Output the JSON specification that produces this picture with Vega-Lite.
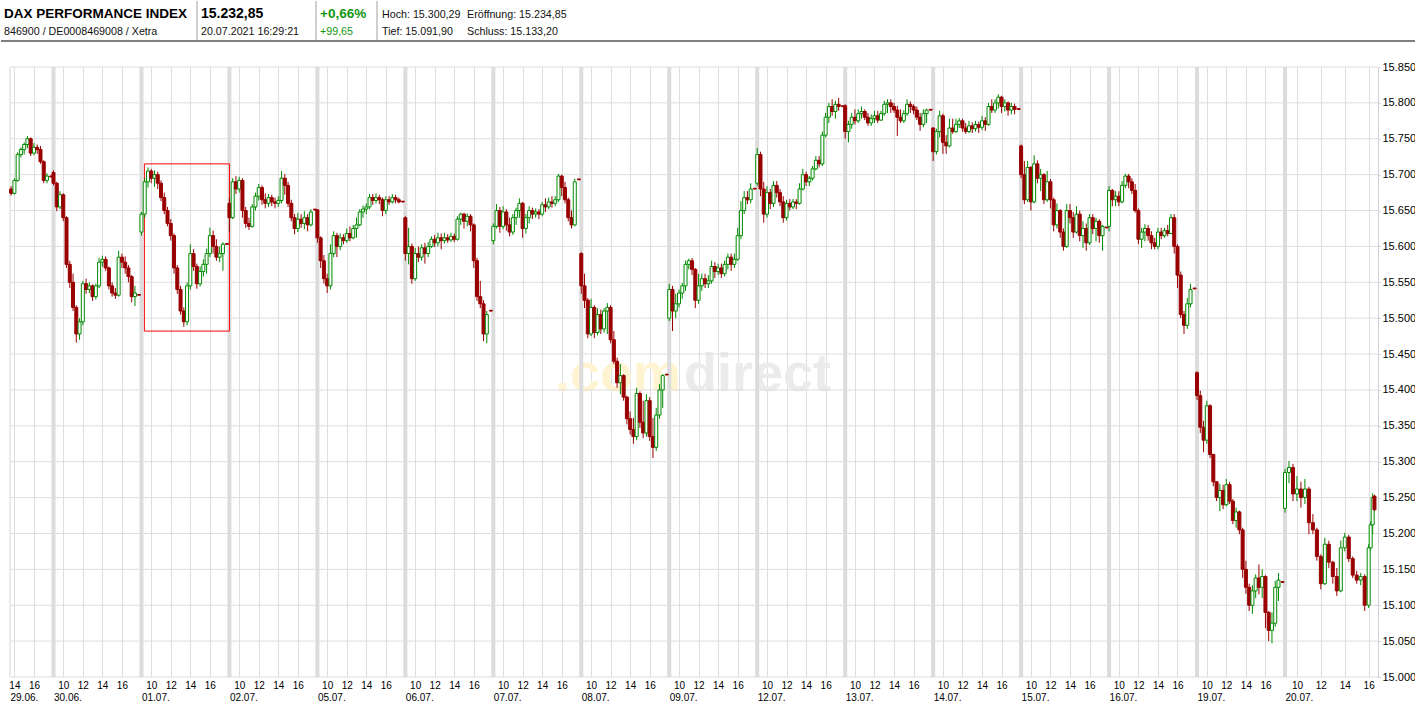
{
"$schema":"https://vega.github.io/schema/vega-lite/v6.json",
"padding":0,
"background":"white",
"config":{"view":{"stroke":null},"scale":{"continuousPadding":0}},
"spacing":19,
"datasets":{
"days":[{"d":1},{"d":2},{"d":3},{"d":4},{"d":5},{"d":6},{"d":7},{"d":8},{"d":9},{"d":10},{"d":11},{"d":12},{"d":13},{"d":14},{"d":15}],
"levels":[{"p":15000},{"p":15050},{"p":15100},{"p":15150},{"p":15200},{"p":15250},{"p":15300},{"p":15350},{"p":15400},{"p":15450},{"p":15500},{"p":15550},{"p":15600},{"p":15650},{"p":15700},{"p":15750},{"p":15800},{"p":15850}],
"box":[{"d":2,"from":"09:18","to":"18:00","lo":15482,"hi":15715}],
"candles":[
{"d":0,"tm":"13:40","o":15680,"c":15674,"hi":15684,"lo":15671},
{"d":0,"tm":"14:00","o":15674,"c":15692,"hi":15695,"lo":15672},
{"d":0,"tm":"14:20","o":15692,"c":15728,"hi":15731,"lo":15690},
{"d":0,"tm":"14:40","o":15728,"c":15735,"hi":15738,"lo":15724},
{"d":0,"tm":"15:00","o":15735,"c":15742,"hi":15745,"lo":15728},
{"d":0,"tm":"15:20","o":15742,"c":15750,"hi":15754,"lo":15737},
{"d":0,"tm":"15:40","o":15750,"c":15730,"hi":15752,"lo":15726},
{"d":0,"tm":"16:00","o":15730,"c":15738,"hi":15744,"lo":15727},
{"d":0,"tm":"16:20","o":15738,"c":15735,"hi":15742,"lo":15729},
{"d":0,"tm":"16:40","o":15735,"c":15718,"hi":15740,"lo":15715},
{"d":0,"tm":"17:00","o":15718,"c":15692,"hi":15720,"lo":15688},
{"d":0,"tm":"17:20","o":15692,"c":15698,"hi":15702,"lo":15688},
{"d":0,"tm":"17:45","o":15698,"c":15697,"hi":15699,"lo":15696},
{"d":1,"tm":"09:00","o":15703,"c":15688,"hi":15706,"lo":15685},
{"d":1,"tm":"09:20","o":15688,"c":15655,"hi":15690,"lo":15649},
{"d":1,"tm":"09:40","o":15655,"c":15672,"hi":15677,"lo":15652},
{"d":1,"tm":"10:00","o":15672,"c":15640,"hi":15674,"lo":15635},
{"d":1,"tm":"10:20","o":15640,"c":15575,"hi":15642,"lo":15570},
{"d":1,"tm":"10:40","o":15575,"c":15550,"hi":15580,"lo":15542},
{"d":1,"tm":"11:00","o":15550,"c":15515,"hi":15562,"lo":15510},
{"d":1,"tm":"11:20","o":15515,"c":15478,"hi":15518,"lo":15466},
{"d":1,"tm":"11:40","o":15478,"c":15495,"hi":15500,"lo":15470},
{"d":1,"tm":"12:00","o":15495,"c":15548,"hi":15552,"lo":15490},
{"d":1,"tm":"12:20","o":15548,"c":15540,"hi":15555,"lo":15534},
{"d":1,"tm":"12:40","o":15540,"c":15545,"hi":15550,"lo":15535},
{"d":1,"tm":"13:00","o":15545,"c":15530,"hi":15547,"lo":15524},
{"d":1,"tm":"13:20","o":15530,"c":15545,"hi":15548,"lo":15526},
{"d":1,"tm":"13:40","o":15545,"c":15578,"hi":15584,"lo":15542},
{"d":1,"tm":"14:00","o":15578,"c":15582,"hi":15587,"lo":15572},
{"d":1,"tm":"14:20","o":15582,"c":15570,"hi":15586,"lo":15566},
{"d":1,"tm":"14:40","o":15570,"c":15545,"hi":15572,"lo":15540},
{"d":1,"tm":"15:00","o":15545,"c":15535,"hi":15550,"lo":15530},
{"d":1,"tm":"15:20","o":15535,"c":15532,"hi":15542,"lo":15527},
{"d":1,"tm":"15:40","o":15532,"c":15585,"hi":15594,"lo":15530},
{"d":1,"tm":"16:00","o":15585,"c":15578,"hi":15590,"lo":15570},
{"d":1,"tm":"16:20","o":15578,"c":15570,"hi":15586,"lo":15562},
{"d":1,"tm":"16:40","o":15570,"c":15558,"hi":15574,"lo":15550},
{"d":1,"tm":"17:00","o":15558,"c":15530,"hi":15560,"lo":15522},
{"d":1,"tm":"17:20","o":15530,"c":15535,"hi":15545,"lo":15517},
{"d":1,"tm":"17:45","o":15533,"c":15532,"hi":15533,"lo":15531},
{"d":2,"tm":"09:00","o":15620,"c":15645,"hi":15648,"lo":15615},
{"d":2,"tm":"09:20","o":15645,"c":15690,"hi":15695,"lo":15640},
{"d":2,"tm":"09:40","o":15690,"c":15705,"hi":15710,"lo":15682},
{"d":2,"tm":"10:00","o":15705,"c":15695,"hi":15708,"lo":15688},
{"d":2,"tm":"10:20","o":15695,"c":15700,"hi":15706,"lo":15683},
{"d":2,"tm":"10:40","o":15700,"c":15688,"hi":15704,"lo":15680},
{"d":2,"tm":"11:00","o":15688,"c":15668,"hi":15692,"lo":15663},
{"d":2,"tm":"11:20","o":15668,"c":15650,"hi":15675,"lo":15645},
{"d":2,"tm":"11:40","o":15650,"c":15632,"hi":15655,"lo":15628},
{"d":2,"tm":"12:00","o":15632,"c":15615,"hi":15638,"lo":15608},
{"d":2,"tm":"12:20","o":15615,"c":15570,"hi":15618,"lo":15562},
{"d":2,"tm":"12:40","o":15570,"c":15540,"hi":15574,"lo":15534},
{"d":2,"tm":"13:00","o":15540,"c":15510,"hi":15545,"lo":15505},
{"d":2,"tm":"13:20","o":15510,"c":15495,"hi":15515,"lo":15488},
{"d":2,"tm":"13:40","o":15495,"c":15545,"hi":15550,"lo":15490},
{"d":2,"tm":"14:00","o":15545,"c":15590,"hi":15603,"lo":15540},
{"d":2,"tm":"14:20","o":15590,"c":15572,"hi":15596,"lo":15566},
{"d":2,"tm":"14:40","o":15572,"c":15548,"hi":15576,"lo":15541},
{"d":2,"tm":"15:00","o":15548,"c":15565,"hi":15572,"lo":15544},
{"d":2,"tm":"15:20","o":15565,"c":15575,"hi":15582,"lo":15558},
{"d":2,"tm":"15:40","o":15575,"c":15590,"hi":15597,"lo":15562},
{"d":2,"tm":"16:00","o":15590,"c":15615,"hi":15626,"lo":15585},
{"d":2,"tm":"16:20","o":15615,"c":15600,"hi":15622,"lo":15590},
{"d":2,"tm":"16:40","o":15600,"c":15585,"hi":15610,"lo":15580},
{"d":2,"tm":"17:00","o":15585,"c":15590,"hi":15600,"lo":15578},
{"d":2,"tm":"17:20","o":15590,"c":15603,"hi":15606,"lo":15566},
{"d":2,"tm":"17:45","o":15604,"c":15603,"hi":15604,"lo":15602},
{"d":3,"tm":"09:00","o":15660,"c":15640,"hi":15668,"lo":15620},
{"d":3,"tm":"09:20","o":15640,"c":15690,"hi":15695,"lo":15638},
{"d":3,"tm":"09:40","o":15690,"c":15680,"hi":15698,"lo":15673},
{"d":3,"tm":"10:00","o":15680,"c":15692,"hi":15697,"lo":15675},
{"d":3,"tm":"10:20","o":15692,"c":15650,"hi":15695,"lo":15640},
{"d":3,"tm":"10:40","o":15650,"c":15632,"hi":15655,"lo":15626},
{"d":3,"tm":"11:00","o":15632,"c":15628,"hi":15640,"lo":15623},
{"d":3,"tm":"11:20","o":15628,"c":15655,"hi":15659,"lo":15626},
{"d":3,"tm":"11:40","o":15655,"c":15670,"hi":15675,"lo":15650},
{"d":3,"tm":"12:00","o":15670,"c":15682,"hi":15687,"lo":15664},
{"d":3,"tm":"12:20","o":15682,"c":15665,"hi":15685,"lo":15658},
{"d":3,"tm":"12:40","o":15665,"c":15660,"hi":15674,"lo":15653},
{"d":3,"tm":"13:00","o":15660,"c":15668,"hi":15673,"lo":15655},
{"d":3,"tm":"13:20","o":15668,"c":15662,"hi":15672,"lo":15656},
{"d":3,"tm":"13:40","o":15662,"c":15660,"hi":15668,"lo":15653},
{"d":3,"tm":"14:00","o":15660,"c":15664,"hi":15670,"lo":15655},
{"d":3,"tm":"14:20","o":15664,"c":15695,"hi":15705,"lo":15660},
{"d":3,"tm":"14:40","o":15695,"c":15685,"hi":15701,"lo":15672},
{"d":3,"tm":"15:00","o":15685,"c":15660,"hi":15690,"lo":15655},
{"d":3,"tm":"15:20","o":15660,"c":15640,"hi":15665,"lo":15635},
{"d":3,"tm":"15:40","o":15640,"c":15625,"hi":15645,"lo":15617},
{"d":3,"tm":"16:00","o":15625,"c":15638,"hi":15647,"lo":15620},
{"d":3,"tm":"16:20","o":15638,"c":15632,"hi":15645,"lo":15626},
{"d":3,"tm":"16:40","o":15632,"c":15640,"hi":15649,"lo":15624},
{"d":3,"tm":"17:00","o":15640,"c":15630,"hi":15645,"lo":15621},
{"d":3,"tm":"17:20","o":15630,"c":15648,"hi":15652,"lo":15628},
{"d":3,"tm":"17:45","o":15652,"c":15651,"hi":15652,"lo":15650},
{"d":4,"tm":"09:00","o":15651,"c":15612,"hi":15651,"lo":15605},
{"d":4,"tm":"09:20","o":15612,"c":15580,"hi":15614,"lo":15570},
{"d":4,"tm":"09:40","o":15580,"c":15555,"hi":15588,"lo":15548},
{"d":4,"tm":"10:00","o":15555,"c":15545,"hi":15562,"lo":15535},
{"d":4,"tm":"10:20","o":15545,"c":15590,"hi":15603,"lo":15540},
{"d":4,"tm":"10:40","o":15590,"c":15615,"hi":15621,"lo":15585},
{"d":4,"tm":"11:00","o":15615,"c":15600,"hi":15619,"lo":15585},
{"d":4,"tm":"11:20","o":15600,"c":15612,"hi":15618,"lo":15595},
{"d":4,"tm":"11:40","o":15612,"c":15608,"hi":15617,"lo":15603},
{"d":4,"tm":"12:00","o":15608,"c":15618,"hi":15625,"lo":15605},
{"d":4,"tm":"12:20","o":15618,"c":15612,"hi":15628,"lo":15607},
{"d":4,"tm":"12:40","o":15612,"c":15625,"hi":15630,"lo":15610},
{"d":4,"tm":"13:00","o":15625,"c":15630,"hi":15640,"lo":15612},
{"d":4,"tm":"13:20","o":15630,"c":15648,"hi":15652,"lo":15628},
{"d":4,"tm":"13:40","o":15648,"c":15652,"hi":15657,"lo":15640},
{"d":4,"tm":"14:00","o":15652,"c":15655,"hi":15660,"lo":15645},
{"d":4,"tm":"14:20","o":15655,"c":15668,"hi":15673,"lo":15652},
{"d":4,"tm":"14:40","o":15668,"c":15664,"hi":15673,"lo":15658},
{"d":4,"tm":"15:00","o":15664,"c":15668,"hi":15674,"lo":15660},
{"d":4,"tm":"15:20","o":15668,"c":15665,"hi":15672,"lo":15659},
{"d":4,"tm":"15:40","o":15665,"c":15650,"hi":15668,"lo":15642},
{"d":4,"tm":"16:00","o":15650,"c":15665,"hi":15670,"lo":15645},
{"d":4,"tm":"16:20","o":15665,"c":15662,"hi":15670,"lo":15658},
{"d":4,"tm":"16:40","o":15662,"c":15668,"hi":15673,"lo":15660},
{"d":4,"tm":"17:00","o":15668,"c":15665,"hi":15672,"lo":15660},
{"d":4,"tm":"17:20","o":15665,"c":15662,"hi":15668,"lo":15660},
{"d":4,"tm":"17:45","o":15663,"c":15662,"hi":15663,"lo":15661},
{"d":5,"tm":"09:00","o":15640,"c":15590,"hi":15642,"lo":15580},
{"d":5,"tm":"09:20","o":15590,"c":15600,"hi":15626,"lo":15575},
{"d":5,"tm":"09:40","o":15600,"c":15555,"hi":15604,"lo":15548},
{"d":5,"tm":"10:00","o":15555,"c":15590,"hi":15598,"lo":15552},
{"d":5,"tm":"10:20","o":15590,"c":15585,"hi":15600,"lo":15578},
{"d":5,"tm":"10:40","o":15585,"c":15598,"hi":15603,"lo":15580},
{"d":5,"tm":"11:00","o":15598,"c":15590,"hi":15605,"lo":15576},
{"d":5,"tm":"11:20","o":15590,"c":15600,"hi":15606,"lo":15585},
{"d":5,"tm":"11:40","o":15600,"c":15610,"hi":15614,"lo":15598},
{"d":5,"tm":"12:00","o":15610,"c":15605,"hi":15616,"lo":15599},
{"d":5,"tm":"12:20","o":15605,"c":15612,"hi":15619,"lo":15600},
{"d":5,"tm":"12:40","o":15612,"c":15608,"hi":15618,"lo":15596},
{"d":5,"tm":"13:00","o":15608,"c":15612,"hi":15619,"lo":15604},
{"d":5,"tm":"13:20","o":15612,"c":15609,"hi":15617,"lo":15605},
{"d":5,"tm":"13:40","o":15609,"c":15614,"hi":15619,"lo":15606},
{"d":5,"tm":"14:00","o":15614,"c":15610,"hi":15618,"lo":15606},
{"d":5,"tm":"14:20","o":15610,"c":15638,"hi":15642,"lo":15608},
{"d":5,"tm":"14:40","o":15638,"c":15645,"hi":15647,"lo":15630},
{"d":5,"tm":"15:00","o":15645,"c":15635,"hi":15647,"lo":15625},
{"d":5,"tm":"15:20","o":15635,"c":15642,"hi":15646,"lo":15628},
{"d":5,"tm":"15:40","o":15642,"c":15630,"hi":15645,"lo":15621},
{"d":5,"tm":"16:00","o":15630,"c":15580,"hi":15632,"lo":15570},
{"d":5,"tm":"16:20","o":15580,"c":15530,"hi":15584,"lo":15524},
{"d":5,"tm":"16:40","o":15530,"c":15520,"hi":15552,"lo":15514},
{"d":5,"tm":"17:00","o":15520,"c":15478,"hi":15525,"lo":15468},
{"d":5,"tm":"17:20","o":15478,"c":15505,"hi":15510,"lo":15465},
{"d":5,"tm":"17:45","o":15511,"c":15510,"hi":15511,"lo":15509},
{"d":6,"tm":"09:00","o":15608,"c":15628,"hi":15632,"lo":15603},
{"d":6,"tm":"09:20","o":15628,"c":15650,"hi":15659,"lo":15625},
{"d":6,"tm":"09:40","o":15650,"c":15628,"hi":15655,"lo":15619},
{"d":6,"tm":"10:00","o":15628,"c":15648,"hi":15656,"lo":15624},
{"d":6,"tm":"10:20","o":15648,"c":15630,"hi":15652,"lo":15622},
{"d":6,"tm":"10:40","o":15630,"c":15620,"hi":15640,"lo":15614},
{"d":6,"tm":"11:00","o":15620,"c":15640,"hi":15645,"lo":15616},
{"d":6,"tm":"11:20","o":15640,"c":15650,"hi":15654,"lo":15630},
{"d":6,"tm":"11:40","o":15650,"c":15660,"hi":15667,"lo":15640},
{"d":6,"tm":"12:00","o":15660,"c":15625,"hi":15662,"lo":15612},
{"d":6,"tm":"12:20","o":15625,"c":15640,"hi":15645,"lo":15618},
{"d":6,"tm":"12:40","o":15640,"c":15650,"hi":15656,"lo":15632},
{"d":6,"tm":"13:00","o":15650,"c":15645,"hi":15654,"lo":15638},
{"d":6,"tm":"13:20","o":15645,"c":15648,"hi":15653,"lo":15640},
{"d":6,"tm":"13:40","o":15648,"c":15645,"hi":15652,"lo":15638},
{"d":6,"tm":"14:00","o":15645,"c":15658,"hi":15662,"lo":15642},
{"d":6,"tm":"14:20","o":15658,"c":15655,"hi":15667,"lo":15648},
{"d":6,"tm":"14:40","o":15655,"c":15662,"hi":15668,"lo":15652},
{"d":6,"tm":"15:00","o":15662,"c":15660,"hi":15670,"lo":15654},
{"d":6,"tm":"15:20","o":15660,"c":15665,"hi":15670,"lo":15656},
{"d":6,"tm":"15:40","o":15665,"c":15698,"hi":15701,"lo":15662},
{"d":6,"tm":"16:00","o":15698,"c":15682,"hi":15700,"lo":15670},
{"d":6,"tm":"16:20","o":15682,"c":15665,"hi":15690,"lo":15660},
{"d":6,"tm":"16:40","o":15665,"c":15640,"hi":15668,"lo":15635},
{"d":6,"tm":"17:00","o":15640,"c":15630,"hi":15650,"lo":15625},
{"d":6,"tm":"17:20","o":15630,"c":15690,"hi":15694,"lo":15628},
{"d":6,"tm":"17:45","o":15694,"c":15693,"hi":15694,"lo":15692},
{"d":7,"tm":"09:00","o":15590,"c":15545,"hi":15592,"lo":15534},
{"d":7,"tm":"09:20","o":15545,"c":15525,"hi":15562,"lo":15514},
{"d":7,"tm":"09:40","o":15525,"c":15478,"hi":15528,"lo":15472},
{"d":7,"tm":"10:00","o":15478,"c":15515,"hi":15527,"lo":15475},
{"d":7,"tm":"10:20","o":15515,"c":15480,"hi":15518,"lo":15472},
{"d":7,"tm":"10:40","o":15480,"c":15505,"hi":15514,"lo":15476},
{"d":7,"tm":"11:00","o":15505,"c":15485,"hi":15512,"lo":15478},
{"d":7,"tm":"11:20","o":15485,"c":15510,"hi":15514,"lo":15480},
{"d":7,"tm":"11:40","o":15510,"c":15515,"hi":15521,"lo":15478},
{"d":7,"tm":"12:00","o":15515,"c":15470,"hi":15518,"lo":15465},
{"d":7,"tm":"12:20","o":15470,"c":15440,"hi":15482,"lo":15436},
{"d":7,"tm":"12:40","o":15440,"c":15410,"hi":15445,"lo":15403},
{"d":7,"tm":"13:00","o":15410,"c":15420,"hi":15436,"lo":15394},
{"d":7,"tm":"13:20","o":15420,"c":15390,"hi":15422,"lo":15385},
{"d":7,"tm":"13:40","o":15390,"c":15360,"hi":15392,"lo":15352},
{"d":7,"tm":"14:00","o":15360,"c":15345,"hi":15370,"lo":15338},
{"d":7,"tm":"14:20","o":15345,"c":15335,"hi":15361,"lo":15325},
{"d":7,"tm":"14:40","o":15335,"c":15395,"hi":15403,"lo":15330},
{"d":7,"tm":"15:00","o":15395,"c":15355,"hi":15398,"lo":15347},
{"d":7,"tm":"15:20","o":15355,"c":15340,"hi":15385,"lo":15333},
{"d":7,"tm":"15:40","o":15340,"c":15385,"hi":15394,"lo":15335},
{"d":7,"tm":"16:00","o":15385,"c":15335,"hi":15390,"lo":15329},
{"d":7,"tm":"16:20","o":15335,"c":15320,"hi":15361,"lo":15305},
{"d":7,"tm":"16:40","o":15320,"c":15365,"hi":15375,"lo":15315},
{"d":7,"tm":"17:00","o":15365,"c":15400,"hi":15408,"lo":15360},
{"d":7,"tm":"17:20","o":15400,"c":15420,"hi":15422,"lo":15375},
{"d":7,"tm":"17:45","o":15422,"c":15421,"hi":15422,"lo":15420},
{"d":8,"tm":"09:00","o":15500,"c":15540,"hi":15548,"lo":15496},
{"d":8,"tm":"09:20","o":15540,"c":15510,"hi":15545,"lo":15482},
{"d":8,"tm":"09:40","o":15510,"c":15520,"hi":15534,"lo":15500},
{"d":8,"tm":"10:00","o":15520,"c":15535,"hi":15540,"lo":15515},
{"d":8,"tm":"10:20","o":15535,"c":15545,"hi":15549,"lo":15527},
{"d":8,"tm":"10:40","o":15545,"c":15575,"hi":15580,"lo":15538},
{"d":8,"tm":"11:00","o":15575,"c":15580,"hi":15583,"lo":15568},
{"d":8,"tm":"11:20","o":15580,"c":15568,"hi":15584,"lo":15560},
{"d":8,"tm":"11:40","o":15568,"c":15525,"hi":15570,"lo":15514},
{"d":8,"tm":"12:00","o":15525,"c":15545,"hi":15562,"lo":15520},
{"d":8,"tm":"12:20","o":15545,"c":15555,"hi":15562,"lo":15538},
{"d":8,"tm":"12:40","o":15555,"c":15548,"hi":15562,"lo":15542},
{"d":8,"tm":"13:00","o":15548,"c":15552,"hi":15560,"lo":15542},
{"d":8,"tm":"13:20","o":15552,"c":15572,"hi":15580,"lo":15548},
{"d":8,"tm":"13:40","o":15572,"c":15565,"hi":15578,"lo":15556},
{"d":8,"tm":"14:00","o":15565,"c":15570,"hi":15576,"lo":15560},
{"d":8,"tm":"14:20","o":15570,"c":15562,"hi":15576,"lo":15556},
{"d":8,"tm":"14:40","o":15562,"c":15575,"hi":15580,"lo":15558},
{"d":8,"tm":"15:00","o":15575,"c":15585,"hi":15590,"lo":15568},
{"d":8,"tm":"15:20","o":15585,"c":15575,"hi":15590,"lo":15566},
{"d":8,"tm":"15:40","o":15575,"c":15582,"hi":15590,"lo":15570},
{"d":8,"tm":"16:00","o":15582,"c":15615,"hi":15626,"lo":15580},
{"d":8,"tm":"16:20","o":15615,"c":15650,"hi":15663,"lo":15610},
{"d":8,"tm":"16:40","o":15650,"c":15668,"hi":15677,"lo":15645},
{"d":8,"tm":"17:00","o":15668,"c":15665,"hi":15677,"lo":15659},
{"d":8,"tm":"17:20","o":15665,"c":15680,"hi":15688,"lo":15660},
{"d":8,"tm":"17:45","o":15681,"c":15680,"hi":15681,"lo":15679},
{"d":9,"tm":"09:00","o":15688,"c":15728,"hi":15737,"lo":15684},
{"d":9,"tm":"09:20","o":15728,"c":15680,"hi":15732,"lo":15670},
{"d":9,"tm":"09:40","o":15680,"c":15645,"hi":15690,"lo":15633},
{"d":9,"tm":"10:00","o":15645,"c":15675,"hi":15684,"lo":15640},
{"d":9,"tm":"10:20","o":15675,"c":15660,"hi":15680,"lo":15652},
{"d":9,"tm":"10:40","o":15660,"c":15685,"hi":15691,"lo":15655},
{"d":9,"tm":"11:00","o":15685,"c":15675,"hi":15691,"lo":15668},
{"d":9,"tm":"11:20","o":15675,"c":15662,"hi":15680,"lo":15656},
{"d":9,"tm":"11:40","o":15662,"c":15640,"hi":15670,"lo":15633},
{"d":9,"tm":"12:00","o":15640,"c":15660,"hi":15665,"lo":15636},
{"d":9,"tm":"12:20","o":15660,"c":15655,"hi":15666,"lo":15650},
{"d":9,"tm":"12:40","o":15655,"c":15662,"hi":15666,"lo":15652},
{"d":9,"tm":"13:00","o":15662,"c":15660,"hi":15666,"lo":15652},
{"d":9,"tm":"13:20","o":15660,"c":15680,"hi":15688,"lo":15658},
{"d":9,"tm":"13:40","o":15680,"c":15700,"hi":15708,"lo":15678},
{"d":9,"tm":"14:00","o":15700,"c":15690,"hi":15704,"lo":15684},
{"d":9,"tm":"14:20","o":15690,"c":15695,"hi":15698,"lo":15684},
{"d":9,"tm":"14:40","o":15695,"c":15708,"hi":15712,"lo":15692},
{"d":9,"tm":"15:00","o":15708,"c":15720,"hi":15726,"lo":15706},
{"d":9,"tm":"15:20","o":15720,"c":15715,"hi":15726,"lo":15710},
{"d":9,"tm":"15:40","o":15715,"c":15755,"hi":15760,"lo":15712},
{"d":9,"tm":"16:00","o":15755,"c":15780,"hi":15786,"lo":15752},
{"d":9,"tm":"16:20","o":15780,"c":15795,"hi":15800,"lo":15772},
{"d":9,"tm":"16:40","o":15795,"c":15788,"hi":15805,"lo":15782},
{"d":9,"tm":"17:00","o":15788,"c":15798,"hi":15803,"lo":15778},
{"d":9,"tm":"17:20","o":15798,"c":15795,"hi":15807,"lo":15789},
{"d":9,"tm":"17:45","o":15796,"c":15795,"hi":15796,"lo":15794},
{"d":10,"tm":"09:00","o":15796,"c":15760,"hi":15798,"lo":15750},
{"d":10,"tm":"09:20","o":15760,"c":15770,"hi":15775,"lo":15745},
{"d":10,"tm":"09:40","o":15770,"c":15780,"hi":15786,"lo":15764},
{"d":10,"tm":"10:00","o":15780,"c":15775,"hi":15791,"lo":15770},
{"d":10,"tm":"10:20","o":15775,"c":15785,"hi":15791,"lo":15772},
{"d":10,"tm":"10:40","o":15785,"c":15788,"hi":15795,"lo":15778},
{"d":10,"tm":"11:00","o":15788,"c":15780,"hi":15791,"lo":15776},
{"d":10,"tm":"11:20","o":15780,"c":15772,"hi":15786,"lo":15768},
{"d":10,"tm":"11:40","o":15772,"c":15778,"hi":15784,"lo":15768},
{"d":10,"tm":"12:00","o":15778,"c":15782,"hi":15789,"lo":15772},
{"d":10,"tm":"12:20","o":15782,"c":15776,"hi":15789,"lo":15772},
{"d":10,"tm":"12:40","o":15776,"c":15785,"hi":15789,"lo":15775},
{"d":10,"tm":"13:00","o":15785,"c":15798,"hi":15803,"lo":15782},
{"d":10,"tm":"13:20","o":15798,"c":15800,"hi":15805,"lo":15786},
{"d":10,"tm":"13:40","o":15800,"c":15795,"hi":15805,"lo":15786},
{"d":10,"tm":"14:00","o":15795,"c":15790,"hi":15800,"lo":15786},
{"d":10,"tm":"14:20","o":15790,"c":15780,"hi":15796,"lo":15754},
{"d":10,"tm":"14:40","o":15780,"c":15775,"hi":15791,"lo":15772},
{"d":10,"tm":"15:00","o":15775,"c":15785,"hi":15790,"lo":15772},
{"d":10,"tm":"15:20","o":15785,"c":15798,"hi":15805,"lo":15782},
{"d":10,"tm":"15:40","o":15798,"c":15795,"hi":15802,"lo":15786},
{"d":10,"tm":"16:00","o":15795,"c":15790,"hi":15798,"lo":15784},
{"d":10,"tm":"16:20","o":15790,"c":15780,"hi":15795,"lo":15776},
{"d":10,"tm":"16:40","o":15780,"c":15770,"hi":15786,"lo":15761},
{"d":10,"tm":"17:00","o":15770,"c":15785,"hi":15791,"lo":15766},
{"d":10,"tm":"17:20","o":15785,"c":15790,"hi":15792,"lo":15772},
{"d":10,"tm":"17:45","o":15791,"c":15790,"hi":15791,"lo":15789},
{"d":11,"tm":"09:00","o":15765,"c":15732,"hi":15766,"lo":15719},
{"d":11,"tm":"09:20","o":15732,"c":15760,"hi":15764,"lo":15728},
{"d":11,"tm":"09:40","o":15760,"c":15782,"hi":15789,"lo":15752},
{"d":11,"tm":"10:00","o":15782,"c":15745,"hi":15785,"lo":15729},
{"d":11,"tm":"10:20","o":15745,"c":15740,"hi":15755,"lo":15729},
{"d":11,"tm":"10:40","o":15740,"c":15765,"hi":15778,"lo":15738},
{"d":11,"tm":"11:00","o":15765,"c":15760,"hi":15778,"lo":15757},
{"d":11,"tm":"11:20","o":15760,"c":15770,"hi":15778,"lo":15758},
{"d":11,"tm":"11:40","o":15770,"c":15775,"hi":15779,"lo":15765},
{"d":11,"tm":"12:00","o":15775,"c":15765,"hi":15778,"lo":15760},
{"d":11,"tm":"12:20","o":15765,"c":15760,"hi":15772,"lo":15757},
{"d":11,"tm":"12:40","o":15760,"c":15768,"hi":15775,"lo":15758},
{"d":11,"tm":"13:00","o":15768,"c":15764,"hi":15773,"lo":15758},
{"d":11,"tm":"13:20","o":15764,"c":15770,"hi":15775,"lo":15760},
{"d":11,"tm":"13:40","o":15770,"c":15766,"hi":15774,"lo":15758},
{"d":11,"tm":"14:00","o":15766,"c":15775,"hi":15782,"lo":15762},
{"d":11,"tm":"14:20","o":15775,"c":15770,"hi":15780,"lo":15761},
{"d":11,"tm":"14:40","o":15770,"c":15795,"hi":15800,"lo":15768},
{"d":11,"tm":"15:00","o":15795,"c":15790,"hi":15805,"lo":15786},
{"d":11,"tm":"15:20","o":15790,"c":15800,"hi":15805,"lo":15786},
{"d":11,"tm":"15:40","o":15800,"c":15808,"hi":15812,"lo":15792},
{"d":11,"tm":"16:00","o":15808,"c":15795,"hi":15810,"lo":15786},
{"d":11,"tm":"16:20","o":15795,"c":15800,"hi":15805,"lo":15788},
{"d":11,"tm":"16:40","o":15800,"c":15790,"hi":15802,"lo":15782},
{"d":11,"tm":"17:00","o":15790,"c":15795,"hi":15800,"lo":15784},
{"d":11,"tm":"17:20","o":15795,"c":15791,"hi":15799,"lo":15784},
{"d":11,"tm":"17:45","o":15792,"c":15791,"hi":15792,"lo":15790},
{"d":12,"tm":"09:00","o":15740,"c":15700,"hi":15742,"lo":15695},
{"d":12,"tm":"09:20","o":15700,"c":15665,"hi":15719,"lo":15659},
{"d":12,"tm":"09:40","o":15665,"c":15710,"hi":15719,"lo":15662},
{"d":12,"tm":"10:00","o":15710,"c":15662,"hi":15712,"lo":15650},
{"d":12,"tm":"10:20","o":15662,"c":15715,"hi":15727,"lo":15660},
{"d":12,"tm":"10:40","o":15715,"c":15695,"hi":15720,"lo":15688},
{"d":12,"tm":"11:00","o":15695,"c":15700,"hi":15708,"lo":15677},
{"d":12,"tm":"11:20","o":15700,"c":15665,"hi":15702,"lo":15659},
{"d":12,"tm":"11:40","o":15665,"c":15690,"hi":15705,"lo":15662},
{"d":12,"tm":"12:00","o":15690,"c":15665,"hi":15694,"lo":15653},
{"d":12,"tm":"12:20","o":15665,"c":15630,"hi":15668,"lo":15621},
{"d":12,"tm":"12:40","o":15630,"c":15650,"hi":15660,"lo":15625},
{"d":12,"tm":"13:00","o":15650,"c":15620,"hi":15652,"lo":15612},
{"d":12,"tm":"13:20","o":15620,"c":15600,"hi":15625,"lo":15594},
{"d":12,"tm":"13:40","o":15600,"c":15650,"hi":15659,"lo":15598},
{"d":12,"tm":"14:00","o":15650,"c":15640,"hi":15659,"lo":15632},
{"d":12,"tm":"14:20","o":15640,"c":15620,"hi":15648,"lo":15612},
{"d":12,"tm":"14:40","o":15620,"c":15645,"hi":15656,"lo":15618},
{"d":12,"tm":"15:00","o":15645,"c":15615,"hi":15650,"lo":15607},
{"d":12,"tm":"15:20","o":15615,"c":15625,"hi":15635,"lo":15598},
{"d":12,"tm":"15:40","o":15625,"c":15605,"hi":15632,"lo":15594},
{"d":12,"tm":"16:00","o":15605,"c":15640,"hi":15645,"lo":15602},
{"d":12,"tm":"16:20","o":15640,"c":15625,"hi":15645,"lo":15617},
{"d":12,"tm":"16:40","o":15625,"c":15635,"hi":15640,"lo":15607},
{"d":12,"tm":"17:00","o":15635,"c":15615,"hi":15638,"lo":15605},
{"d":12,"tm":"17:20","o":15615,"c":15628,"hi":15630,"lo":15594},
{"d":12,"tm":"17:45","o":15627,"c":15626,"hi":15627,"lo":15625},
{"d":13,"tm":"09:00","o":15628,"c":15678,"hi":15684,"lo":15621},
{"d":13,"tm":"09:20","o":15678,"c":15665,"hi":15680,"lo":15656},
{"d":13,"tm":"09:40","o":15665,"c":15670,"hi":15677,"lo":15656},
{"d":13,"tm":"10:00","o":15670,"c":15662,"hi":15677,"lo":15656},
{"d":13,"tm":"10:20","o":15662,"c":15685,"hi":15691,"lo":15660},
{"d":13,"tm":"10:40","o":15685,"c":15698,"hi":15701,"lo":15681},
{"d":13,"tm":"11:00","o":15698,"c":15690,"hi":15701,"lo":15681},
{"d":13,"tm":"11:20","o":15690,"c":15678,"hi":15695,"lo":15673},
{"d":13,"tm":"11:40","o":15678,"c":15650,"hi":15687,"lo":15647},
{"d":13,"tm":"12:00","o":15650,"c":15610,"hi":15653,"lo":15603},
{"d":13,"tm":"12:20","o":15610,"c":15620,"hi":15626,"lo":15598},
{"d":13,"tm":"12:40","o":15620,"c":15625,"hi":15631,"lo":15607},
{"d":13,"tm":"13:00","o":15625,"c":15615,"hi":15630,"lo":15608},
{"d":13,"tm":"13:20","o":15615,"c":15605,"hi":15621,"lo":15596},
{"d":13,"tm":"13:40","o":15605,"c":15600,"hi":15612,"lo":15596},
{"d":13,"tm":"14:00","o":15600,"c":15620,"hi":15626,"lo":15596},
{"d":13,"tm":"14:20","o":15620,"c":15615,"hi":15626,"lo":15610},
{"d":13,"tm":"14:40","o":15615,"c":15622,"hi":15626,"lo":15612},
{"d":13,"tm":"15:00","o":15622,"c":15618,"hi":15630,"lo":15614},
{"d":13,"tm":"15:20","o":15618,"c":15640,"hi":15645,"lo":15617},
{"d":13,"tm":"15:40","o":15640,"c":15600,"hi":15645,"lo":15590},
{"d":13,"tm":"16:00","o":15600,"c":15560,"hi":15603,"lo":15542},
{"d":13,"tm":"16:20","o":15560,"c":15505,"hi":15565,"lo":15500},
{"d":13,"tm":"16:40","o":15505,"c":15490,"hi":15510,"lo":15478},
{"d":13,"tm":"17:00","o":15490,"c":15520,"hi":15528,"lo":15485},
{"d":13,"tm":"17:20","o":15520,"c":15540,"hi":15548,"lo":15515},
{"d":13,"tm":"17:45","o":15542,"c":15541,"hi":15542,"lo":15540},
{"d":14,"tm":"09:00","o":15424,"c":15392,"hi":15426,"lo":15386},
{"d":14,"tm":"09:20","o":15392,"c":15348,"hi":15399,"lo":15340},
{"d":14,"tm":"09:40","o":15348,"c":15330,"hi":15357,"lo":15313},
{"d":14,"tm":"10:00","o":15330,"c":15378,"hi":15385,"lo":15325},
{"d":14,"tm":"10:20","o":15378,"c":15310,"hi":15380,"lo":15305},
{"d":14,"tm":"10:40","o":15310,"c":15272,"hi":15311,"lo":15266},
{"d":14,"tm":"11:00","o":15272,"c":15250,"hi":15273,"lo":15245},
{"d":14,"tm":"11:20","o":15250,"c":15260,"hi":15269,"lo":15231},
{"d":14,"tm":"11:40","o":15260,"c":15240,"hi":15268,"lo":15234},
{"d":14,"tm":"12:00","o":15240,"c":15268,"hi":15276,"lo":15238},
{"d":14,"tm":"12:20","o":15268,"c":15245,"hi":15272,"lo":15241},
{"d":14,"tm":"12:40","o":15245,"c":15218,"hi":15248,"lo":15213},
{"d":14,"tm":"13:00","o":15218,"c":15230,"hi":15236,"lo":15208},
{"d":14,"tm":"13:20","o":15230,"c":15205,"hi":15232,"lo":15199},
{"d":14,"tm":"13:40","o":15205,"c":15150,"hi":15208,"lo":15138},
{"d":14,"tm":"14:00","o":15150,"c":15125,"hi":15162,"lo":15116},
{"d":14,"tm":"14:20","o":15125,"c":15100,"hi":15130,"lo":15092},
{"d":14,"tm":"14:40","o":15100,"c":15120,"hi":15128,"lo":15088},
{"d":14,"tm":"15:00","o":15120,"c":15138,"hi":15143,"lo":15110},
{"d":14,"tm":"15:20","o":15138,"c":15125,"hi":15157,"lo":15115},
{"d":14,"tm":"15:40","o":15125,"c":15140,"hi":15150,"lo":15110},
{"d":14,"tm":"16:00","o":15140,"c":15090,"hi":15142,"lo":15068},
{"d":14,"tm":"16:20","o":15090,"c":15065,"hi":15092,"lo":15050},
{"d":14,"tm":"16:40","o":15065,"c":15075,"hi":15090,"lo":15047},
{"d":14,"tm":"17:00","o":15075,"c":15125,"hi":15134,"lo":15070},
{"d":14,"tm":"17:20","o":15125,"c":15135,"hi":15145,"lo":15106},
{"d":14,"tm":"17:45","o":15133,"c":15132,"hi":15133,"lo":15131},
{"d":15,"tm":"09:00","o":15235,"c":15285,"hi":15290,"lo":15229},
{"d":15,"tm":"09:20","o":15285,"c":15292,"hi":15301,"lo":15270},
{"d":15,"tm":"09:40","o":15292,"c":15255,"hi":15297,"lo":15245},
{"d":15,"tm":"10:00","o":15255,"c":15262,"hi":15280,"lo":15245},
{"d":15,"tm":"10:20","o":15262,"c":15250,"hi":15272,"lo":15236},
{"d":15,"tm":"10:40","o":15250,"c":15262,"hi":15276,"lo":15241},
{"d":15,"tm":"11:00","o":15262,"c":15215,"hi":15265,"lo":15199},
{"d":15,"tm":"11:20","o":15215,"c":15205,"hi":15227,"lo":15199},
{"d":15,"tm":"11:40","o":15205,"c":15168,"hi":15208,"lo":15162},
{"d":15,"tm":"12:00","o":15168,"c":15130,"hi":15171,"lo":15122},
{"d":15,"tm":"12:20","o":15130,"c":15185,"hi":15194,"lo":15128},
{"d":15,"tm":"12:40","o":15185,"c":15160,"hi":15190,"lo":15152},
{"d":15,"tm":"13:00","o":15160,"c":15140,"hi":15162,"lo":15130},
{"d":15,"tm":"13:20","o":15140,"c":15120,"hi":15152,"lo":15113},
{"d":15,"tm":"13:40","o":15120,"c":15180,"hi":15190,"lo":15118},
{"d":15,"tm":"14:00","o":15180,"c":15195,"hi":15201,"lo":15175},
{"d":15,"tm":"14:20","o":15195,"c":15165,"hi":15198,"lo":15160},
{"d":15,"tm":"14:40","o":15165,"c":15142,"hi":15168,"lo":15138},
{"d":15,"tm":"15:00","o":15142,"c":15135,"hi":15148,"lo":15130},
{"d":15,"tm":"15:20","o":15135,"c":15140,"hi":15145,"lo":15128},
{"d":15,"tm":"15:40","o":15140,"c":15100,"hi":15143,"lo":15092},
{"d":15,"tm":"16:00","o":15100,"c":15180,"hi":15185,"lo":15096},
{"d":15,"tm":"16:10","o":15180,"c":15212,"hi":15217,"lo":15176},
{"d":15,"tm":"16:20","o":15212,"c":15250,"hi":15256,"lo":15199},
{"d":15,"tm":"16:29","o":15252,"c":15233,"hi":15254,"lo":15231}
]},
"vconcat":[
{"hconcat":[
{"width":196,"height":40,"data":{"values":[{"line":1,"text":"DAX PERFORMANCE INDEX"},{"line":2,"text":"846900 / DE0008469008 / Xetra"}]},
"layer":[
{"transform":[{"filter":"datum.line==1"}],"mark":{"type":"text","align":"left","baseline":"alphabetic","dx":3,"font":"Liberation Sans","fontSize":13.5,"fontWeight":"bold","color":"#000000"},"encoding":{"text":{"field":"text"},"x":{"datum":0,"type":"quantitative","scale":{"domain":[0,1]},"axis":null},"y":{"field":"line","type":"quantitative","scale":{"domain":[0,2.35],"reverse":true},"axis":null}}},
{"transform":[{"filter":"datum.line==2"}],"mark":{"type":"text","align":"left","baseline":"alphabetic","dx":3,"font":"Liberation Sans","fontSize":10.7,"color":"#111111"},"encoding":{"text":{"field":"text"},"x":{"datum":0,"type":"quantitative","scale":{"domain":[0,1]},"axis":null},"y":{"field":"line","type":"quantitative","scale":{"domain":[0,2.35],"reverse":true},"axis":null}}},
{"data":{"values":[{}]},"mark":{"type":"rule","color":"#a0a0a0","strokeWidth":1},"encoding":{"x":{"datum":1,"type":"quantitative","scale":{"domain":[0,1]},"axis":null}}},
{"data":{"values":[{}]},"mark":{"type":"rule","color":"#808080","strokeWidth":2},"encoding":{"y":{"datum":2.35,"type":"quantitative","scale":{"domain":[0,2.35],"reverse":true},"axis":null}}}
]},
{"width":119,"height":40,"data":{"values":[{"line":1,"text":"15.232,85"},{"line":2,"text":"20.07.2021 16:29:21"}]},
"layer":[
{"transform":[{"filter":"datum.line==1"}],"mark":{"type":"text","align":"left","baseline":"alphabetic","dx":4,"font":"Liberation Sans","fontSize":14,"fontWeight":"bold","color":"#000000"},"encoding":{"text":{"field":"text"},"x":{"datum":0,"type":"quantitative","scale":{"domain":[0,1]},"axis":null},"y":{"field":"line","type":"quantitative","scale":{"domain":[0,2.35],"reverse":true},"axis":null}}},
{"transform":[{"filter":"datum.line==2"}],"mark":{"type":"text","align":"left","baseline":"alphabetic","dx":4,"font":"Liberation Sans","fontSize":10.7,"color":"#111111"},"encoding":{"text":{"field":"text"},"x":{"datum":0,"type":"quantitative","scale":{"domain":[0,1]},"axis":null},"y":{"field":"line","type":"quantitative","scale":{"domain":[0,2.35],"reverse":true},"axis":null}}},
{"data":{"values":[{}]},"mark":{"type":"rule","color":"#a0a0a0","strokeWidth":1},"encoding":{"x":{"datum":1,"type":"quantitative","scale":{"domain":[0,1]},"axis":null}}},
{"data":{"values":[{}]},"mark":{"type":"rule","color":"#808080","strokeWidth":2},"encoding":{"y":{"datum":2.35,"type":"quantitative","scale":{"domain":[0,2.35],"reverse":true},"axis":null}}}
]},
{"width":61,"height":40,"data":{"values":[{"line":1,"text":"+0,66%"},{"line":2,"text":"+99,65"}]},
"layer":[
{"transform":[{"filter":"datum.line==1"}],"mark":{"type":"text","align":"left","baseline":"alphabetic","dx":4,"font":"Liberation Sans","fontSize":13.5,"fontWeight":"bold","color":"#129612"},"encoding":{"text":{"field":"text"},"x":{"datum":0,"type":"quantitative","scale":{"domain":[0,1]},"axis":null},"y":{"field":"line","type":"quantitative","scale":{"domain":[0,2.35],"reverse":true},"axis":null}}},
{"transform":[{"filter":"datum.line==2"}],"mark":{"type":"text","align":"left","baseline":"alphabetic","dx":4,"font":"Liberation Sans","fontSize":10.7,"color":"#129612"},"encoding":{"text":{"field":"text"},"x":{"datum":0,"type":"quantitative","scale":{"domain":[0,1]},"axis":null},"y":{"field":"line","type":"quantitative","scale":{"domain":[0,2.35],"reverse":true},"axis":null}}},
{"data":{"values":[{}]},"mark":{"type":"rule","color":"#a0a0a0","strokeWidth":1},"encoding":{"x":{"datum":1,"type":"quantitative","scale":{"domain":[0,1]},"axis":null}}},
{"data":{"values":[{}]},"mark":{"type":"rule","color":"#808080","strokeWidth":2},"encoding":{"y":{"datum":2.35,"type":"quantitative","scale":{"domain":[0,2.35],"reverse":true},"axis":null}}}
]},
{"width":85,"height":40,"data":{"values":[{"line":1,"text":"Hoch: 15.300,29"},{"line":2,"text":"Tief: 15.091,90"}]},
"layer":[
{"mark":{"type":"text","align":"left","baseline":"alphabetic","dx":5,"font":"Liberation Sans","fontSize":10.7,"color":"#111111"},"encoding":{"text":{"field":"text"},"x":{"datum":0,"type":"quantitative","scale":{"domain":[0,1]},"axis":null},"y":{"field":"line","type":"quantitative","scale":{"domain":[0,2.35],"reverse":true},"axis":null}}},
{"data":{"values":[{}]},"mark":{"type":"rule","color":"#808080","strokeWidth":2},"encoding":{"y":{"datum":2.35,"type":"quantitative","scale":{"domain":[0,2.35],"reverse":true},"axis":null}}}
]},
{"width":954,"height":40,"data":{"values":[{"line":1,"text":"Eröffnung: 15.234,85"},{"line":2,"text":"Schluss: 15.133,20"}]},
"layer":[
{"mark":{"type":"text","align":"left","baseline":"alphabetic","dx":5,"font":"Liberation Sans","fontSize":10.7,"color":"#111111"},"encoding":{"text":{"field":"text"},"x":{"datum":0,"type":"quantitative","scale":{"domain":[0,1]},"axis":null},"y":{"field":"line","type":"quantitative","scale":{"domain":[0,2.35],"reverse":true},"axis":null}}},
{"data":{"values":[{}]},"mark":{"type":"rule","color":"#808080","strokeWidth":2},"encoding":{"y":{"datum":2.35,"type":"quantitative","scale":{"domain":[0,2.35],"reverse":true},"axis":null}}}
]}
],"spacing":0,"bounds":"flush"},
{"width":1377,"height":610,
"resolve":{"axis":{"x":"independent","y":"independent"}},
"layer":[
{"data":{"values":[{}]},"mark":{"type":"text","text":".com","align":"right","baseline":"alphabetic","font":"Liberation Sans","fontSize":54,"fontWeight":"bold","color":"#fff4d2"},
"encoding":{"x":{"datum":64.2,"type":"quantitative","scale":{"domain":[-4.45,126,133.78],"range":[9,1284,1377],"nice":false,"zero":false,"padding":0},"axis":null},"y":{"datum":15398,"type":"quantitative","scale":{"domain":[15000,15850],"nice":false,"zero":false,"padding":0},"axis":null}}},
{"data":{"values":[{}]},"mark":{"type":"text","text":"direct","align":"left","baseline":"alphabetic","font":"Liberation Sans","fontSize":54,"fontWeight":"bold","color":"#ebebeb"},
"encoding":{"x":{"datum":64.5,"type":"quantitative","scale":{"domain":[-4.45,126,133.78],"range":[9,1284,1377],"nice":false,"zero":false,"padding":0},"axis":null},"y":{"datum":15398,"type":"quantitative","scale":{"domain":[15000,15850],"nice":false,"zero":false,"padding":0},"axis":null}}},
{"data":{"name":"levels"},"mark":{"type":"rule","color":"#dedede","strokeWidth":1},
"encoding":{"x":{"datum":-4.45,"type":"quantitative","scale":{"domain":[-4.45,126,133.78],"range":[9,1284,1377],"nice":false,"zero":false,"padding":0},"axis":null},"x2":{"datum":133.78},"y":{"field":"p","type":"quantitative","scale":{"domain":[15000,15850],"nice":false,"zero":false,"padding":0},"axis":null}}},
{"data":{"values":[{}]},"mark":{"type":"rule","color":"#d6d6d6","strokeWidth":1},
"encoding":{"x":{"datum":-4.45,"type":"quantitative","scale":{"domain":[-4.45,126,133.78],"range":[9,1284,1377],"nice":false,"zero":false,"padding":0},"axis":null}}},
{"data":{"name":"days"},"transform":[{"calculate":"(datum.d-1)*9","as":"t"}],
"mark":{"type":"rule","color":"#dcdcdc","strokeWidth":4},
"encoding":{"x":{"field":"t","type":"quantitative","scale":{"domain":[-4.45,126,133.78],"range":[9,1284,1377],"nice":false,"zero":false,"padding":0},
"axis":{"orient":"bottom","values":[-4,-2,1,3,5,7,10,12,14,16,19,21,23,25,28,30,32,34,37,39,41,43,46,48,50,52,55,57,59,61,64,66,68,70,73,75,77,79,82,84,86,88,91,93,95,97,100,102,104,106,109,111,113,115,118,120,122,124,127,129,131,133],
"labelExpr":"'' + ((((datum.value % 9) + 9) % 9) + 9)","grid":true,"gridColor":"#dedede","gridWidth":1,"ticks":false,"domain":false,"labelPadding":3,"labelFontSize":10,"labelFont":"Liberation Sans","labelColor":"#000000","labelOverlap":false,"labelBound":false,"labelFlush":false,"title":null}}}},
{"data":{"name":"box"},"transform":[{"calculate":"(datum.d-1)*9+toNumber(substring(datum.from,0,2))-9+toNumber(substring(datum.from,3,5))/60","as":"t1"},{"calculate":"(datum.d-1)*9+toNumber(substring(datum.to,0,2))-9+toNumber(substring(datum.to,3,5))/60","as":"t2"}],
"mark":{"type":"rect","fill":"transparent","stroke":"#ff0000","strokeWidth":1},
"encoding":{"x":{"field":"t1","type":"quantitative","scale":{"domain":[-4.45,126,133.78],"range":[9,1284,1377],"nice":false,"zero":false,"padding":0},
"axis":{"orient":"bottom","offset":13,"values":[-4.45,0,9,18,27,36,45,54,63,72,81,90,99,108,117,126],
"labelExpr":"['29.06.','30.06.','01.07.','02.07.','05.07.','06.07.','07.07.','08.07.','09.07.','12.07.','13.07.','14.07.','15.07.','16.07.','19.07.','20.07.'][datum.value < 0 ? 0 : round(datum.value/9)+1]","labelAlign":"left","grid":false,"ticks":false,"domain":false,"labelPadding":2,"labelFontSize":10,"labelFont":"Liberation Sans","labelColor":"#000000","labelOverlap":false,"labelBound":false,"labelFlush":false,"title":null}},
"x2":{"field":"t2"},
"y":{"field":"lo","type":"quantitative","scale":{"domain":[15000,15850],"nice":false,"zero":false,"padding":0},
"axis":{"orient":"right","values":[15000,15050,15100,15150,15200,15250,15300,15350,15400,15450,15500,15550,15600,15650,15700,15750,15800,15850],"labelExpr":"replace(format(datum.value, ','), ',', '.')","grid":false,"tickSize":2,"tickColor":"#d0d0d0","domain":true,"domainColor":"#d0d0d0","labelPadding":2,"labelFontSize":11,"labelFont":"Liberation Sans","labelColor":"#000000","labelOverlap":false,"labelBound":false,"labelFlush":false,"title":null}},
"y2":{"field":"hi"}}},
{"data":{"name":"candles"},"transform":[{"calculate":"(datum.d-1)*9+toNumber(substring(datum.tm,0,2))-9+toNumber(substring(datum.tm,3,5))/60","as":"t"}],
"layer":[
{"mark":{"type":"rule","strokeWidth":1},
"encoding":{"x":{"field":"t","type":"quantitative","scale":{"domain":[-4.45,126,133.78],"range":[9,1284,1377],"nice":false,"zero":false,"padding":0},"axis":null},
"y":{"field":"lo","type":"quantitative","scale":{"domain":[15000,15850],"nice":false,"zero":false,"padding":0},"axis":null},
"y2":{"field":"hi"},
"color":{"condition":{"test":"datum.c >= datum.o","value":"#008a00"},"value":"#990000"}}},
{"mark":{"type":"bar","size":3,"strokeWidth":1},
"encoding":{"x":{"field":"t","type":"quantitative","scale":{"domain":[-4.45,126,133.78],"range":[9,1284,1377],"nice":false,"zero":false,"padding":0},"axis":null},
"y":{"field":"o","type":"quantitative","scale":{"domain":[15000,15850],"nice":false,"zero":false,"padding":0},"axis":null},
"y2":{"field":"c"},
"fill":{"condition":{"test":"datum.c >= datum.o","value":"#ffffff"},"value":"#990000"},
"stroke":{"condition":{"test":"datum.c >= datum.o","value":"#008a00"},"value":"#990000"}}}
]}
]}
]
}
